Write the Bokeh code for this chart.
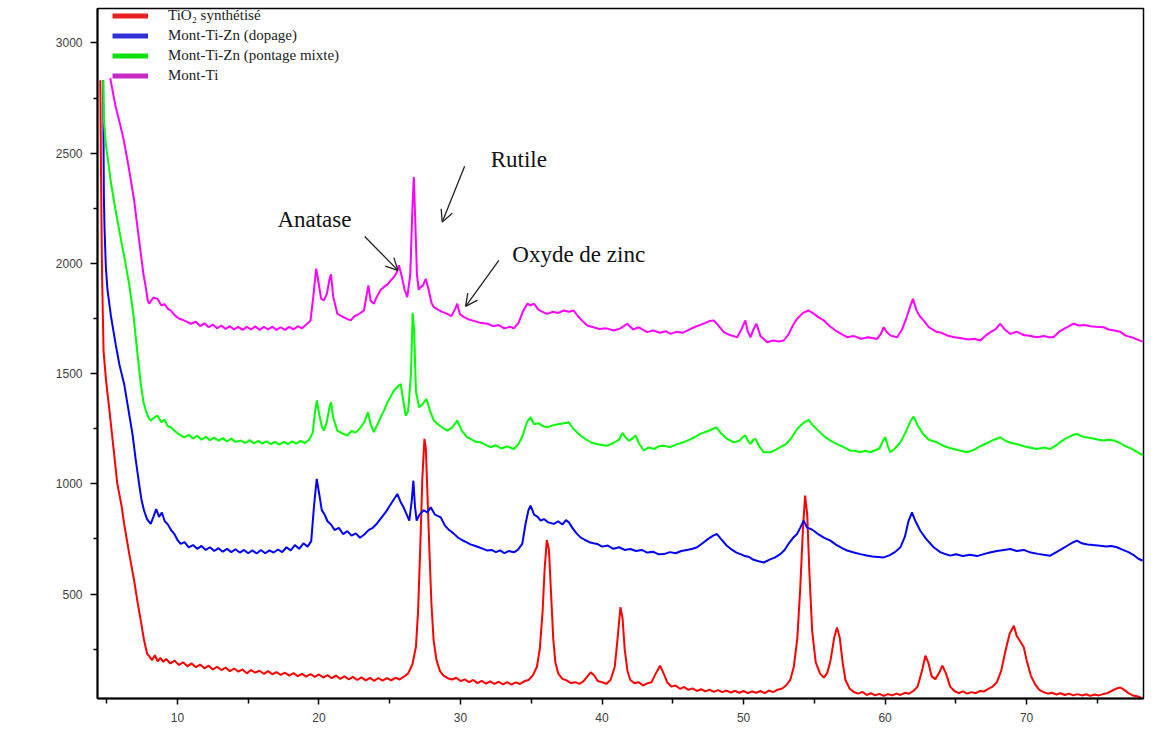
from bokeh.plotting import figure
from bokeh.models import (Range1d, FixedTicker, Label, Arrow, OpenHead, Legend,
                          LegendItem)
from bokeh.embed import file_html
from bokeh.resources import INLINE

# ---------------- data (2Theta in degrees, intensity in counts) ----------------
tio2_synth = [
    (4.55, 2830), (4.6, 2400), (4.67, 1950), (4.78, 1600), (4.95, 1470), (5.17, 1347),
    (5.45, 1180), (5.75, 1000), (6.05, 900), (6.23, 818), (6.6, 680), (6.94, 560),
    (7.2, 455), (7.41, 379), (7.64, 290), (7.85, 230), (8.0, 218), (8.2, 200),
    (8.4, 222), (8.6, 195), (8.8, 210), (9.0, 192), (9.2, 205), (9.5, 185),
    (9.8, 198), (10.1, 178), (10.4, 190), (10.7, 172), (11.0, 185), (11.3, 168),
    (11.6, 180), (11.9, 163), (12.2, 175), (12.5, 158), (12.8, 170), (13.1, 155),
    (13.4, 166), (13.7, 150), (14.0, 162), (14.3, 148), (14.6, 158), (14.9, 140),
    (15.2, 155), (15.5, 143), (15.8, 152), (16.1, 138), (16.4, 150), (16.7, 136),
    (17.0, 146), (17.3, 133), (17.6, 143), (17.9, 130), (18.2, 141), (18.5, 127),
    (18.8, 138), (19.1, 125), (19.4, 137), (19.7, 124), (20.0, 135), (20.3, 121),
    (20.6, 132), (20.9, 118), (21.2, 130), (21.5, 115), (21.8, 127), (22.1, 113),
    (22.4, 124), (22.7, 110), (23.0, 122), (23.3, 108), (23.6, 120), (23.9, 106),
    (24.2, 119), (24.5, 107), (24.8, 118), (25.1, 108), (25.4, 120), (25.7, 112),
    (26.0, 125), (26.3, 140), (26.6, 180), (26.85, 260), (27.0, 420), (27.15, 700),
    (27.3, 1020), (27.45, 1204), (27.55, 1160), (27.65, 980), (27.8, 700), (27.95, 450),
    (28.1, 290), (28.3, 200), (28.55, 150), (28.8, 130), (29.1, 118), (29.4, 112),
    (29.7, 120), (30.0, 105), (30.3, 113), (30.6, 100), (30.9, 110), (31.2, 96),
    (31.5, 106), (31.8, 93), (32.1, 104), (32.4, 92), (32.7, 102), (33.0, 90),
    (33.3, 100), (33.6, 89), (33.9, 99), (34.2, 92), (34.5, 104), (34.8, 110),
    (35.1, 130), (35.4, 170), (35.6, 250), (35.8, 420), (35.95, 620), (36.1, 745),
    (36.25, 700), (36.4, 500), (36.55, 300), (36.7, 190), (36.9, 140), (37.2, 115),
    (37.5, 108), (37.8, 96), (38.1, 100), (38.4, 92), (38.7, 105), (38.95, 125),
    (39.2, 145), (39.45, 130), (39.7, 105), (40.0, 100), (40.3, 92), (40.6, 110),
    (40.9, 170), (41.1, 300), (41.3, 440), (41.45, 390), (41.6, 250), (41.8, 150),
    (42.0, 110), (42.3, 95), (42.6, 100), (42.9, 85), (43.2, 95), (43.5, 100),
    (43.8, 140), (44.1, 175), (44.35, 140), (44.6, 100), (44.9, 80), (45.2, 85),
    (45.5, 70), (45.8, 78), (46.1, 65), (46.4, 72), (46.7, 60), (47.0, 68),
    (47.3, 58), (47.6, 66), (47.9, 56), (48.2, 64), (48.5, 55), (48.8, 62),
    (49.1, 53), (49.4, 61), (49.7, 52), (50.0, 60), (50.3, 50), (50.6, 58),
    (50.9, 52), (51.2, 60), (51.5, 50), (51.8, 62), (52.1, 55), (52.4, 66),
    (52.7, 70), (53.0, 85), (53.3, 110), (53.55, 170), (53.8, 300), (54.0, 520),
    (54.2, 800), (54.35, 946), (54.5, 860), (54.65, 600), (54.85, 330), (55.1, 190),
    (55.4, 140), (55.67, 121), (55.9, 140), (56.15, 200), (56.4, 300), (56.6, 348),
    (56.8, 300), (57.0, 190), (57.2, 110), (57.5, 70), (57.8, 55), (58.1, 48),
    (58.4, 56), (58.7, 42), (59.0, 50), (59.3, 40), (59.6, 47), (59.9, 38),
    (60.2, 46), (60.5, 40), (60.8, 48), (61.1, 42), (61.4, 52), (61.7, 48),
    (62.0, 60), (62.3, 80), (62.6, 150), (62.85, 220), (63.05, 190), (63.3, 125),
    (63.55, 114), (63.8, 140), (64.05, 175), (64.3, 140), (64.6, 80), (64.9, 60),
    (65.2, 50), (65.5, 58), (65.8, 48), (66.1, 55), (66.4, 50), (66.7, 60),
    (67.0, 58), (67.3, 70), (67.6, 80), (67.9, 100), (68.2, 150), (68.5, 240),
    (68.8, 320), (69.1, 356), (69.3, 310), (69.5, 290), (69.8, 258), (70.0, 200),
    (70.3, 130), (70.6, 90), (70.9, 65), (71.2, 55), (71.5, 48), (71.8, 52),
    (72.1, 44), (72.4, 50), (72.7, 42), (73.0, 48), (73.3, 40), (73.6, 46),
    (73.9, 40), (74.2, 45), (74.5, 38), (74.8, 44), (75.1, 40), (75.4, 46),
    (75.7, 50), (76.0, 60), (76.3, 70), (76.6, 76), (76.9, 65), (77.2, 50),
    (77.5, 40), (77.8, 36), (78.1, 30),
]

mont_ti_zn_dopage = [
    (4.75, 2830), (4.8, 2300), (4.85, 2150), (4.94, 1983), (5.06, 1877), (5.3, 1760),
    (5.64, 1630), (5.9, 1540), (6.23, 1453), (6.5, 1350), (6.82, 1226), (7.05, 1110),
    (7.29, 1000), (7.45, 930), (7.64, 878), (7.85, 840), (8.11, 818), (8.3, 850),
    (8.5, 885), (8.7, 850), (8.9, 870), (9.1, 830), (9.3, 818), (9.55, 790),
    (9.8, 770), (10.0, 745), (10.23, 727), (10.5, 735), (10.8, 712), (11.1, 722),
    (11.4, 705), (11.7, 718), (12.0, 700), (12.3, 712), (12.6, 695), (12.9, 708),
    (13.2, 692), (13.5, 705), (13.8, 690), (14.1, 703), (14.4, 688), (14.7, 700),
    (15.0, 685), (15.3, 698), (15.6, 684), (15.9, 700), (16.2, 685), (16.5, 698),
    (16.8, 688), (17.1, 702), (17.4, 690), (17.7, 712), (18.0, 698), (18.3, 722),
    (18.6, 705), (18.9, 730), (19.2, 715), (19.45, 740), (19.65, 900), (19.84, 1022),
    (20.0, 960), (20.2, 880), (20.4, 860), (20.6, 830), (20.85, 815), (21.1, 790),
    (21.4, 800), (21.7, 772), (22.0, 785), (22.3, 765), (22.6, 775), (22.9, 755),
    (23.2, 770), (23.5, 790), (23.8, 800), (24.1, 820), (24.4, 845), (24.7, 870),
    (25.0, 900), (25.25, 925), (25.54, 954), (25.75, 920), (26.0, 890), (26.2, 860),
    (26.38, 833), (26.55, 920), (26.67, 1014), (26.78, 900), (26.9, 833), (27.1, 860),
    (27.4, 880), (27.65, 870), (27.9, 893), (28.2, 860), (28.6, 848), (28.9, 810),
    (29.2, 790), (29.5, 775), (29.8, 757), (30.1, 745), (30.4, 735), (30.7, 725),
    (31.0, 719), (31.3, 712), (31.6, 705), (31.9, 697), (32.2, 700), (32.5, 690),
    (32.8, 698), (33.1, 685), (33.4, 695), (33.77, 689), (34.05, 700), (34.36, 727),
    (34.6, 820), (34.8, 880), (34.95, 901), (35.2, 860), (35.45, 850), (35.66, 833),
    (35.9, 840), (36.2, 825), (36.6, 818), (36.9, 830), (37.2, 815), (37.45, 835),
    (37.66, 825), (37.9, 800), (38.2, 775), (38.48, 757), (38.8, 745), (39.1, 735),
    (39.4, 730), (39.66, 727), (40.0, 715), (40.4, 720), (40.8, 705), (41.2, 712),
    (41.6, 700), (42.0, 704), (42.4, 695), (42.8, 700), (43.2, 688), (43.6, 692),
    (44.0, 680), (44.37, 681), (44.8, 690), (45.2, 685), (45.6, 695), (46.0, 700),
    (46.4, 705), (46.72, 712), (47.1, 730), (47.5, 750), (47.85, 765), (48.13, 772),
    (48.4, 750), (48.8, 720), (49.2, 700), (49.5, 688), (49.78, 681), (50.1, 672),
    (50.4, 668), (50.7, 655), (51.0, 650), (51.43, 643), (51.8, 655), (52.2, 665),
    (52.6, 681), (52.9, 700), (53.2, 730), (53.5, 755), (53.78, 772), (54.0, 800),
    (54.25, 833), (54.5, 800), (54.75, 795), (54.96, 787), (55.3, 770), (55.7, 755),
    (56.14, 742), (56.5, 725), (56.9, 710), (57.32, 697), (57.8, 688), (58.25, 681),
    (58.7, 675), (59.1, 670), (59.5, 668), (59.9, 666), (60.3, 675), (60.7, 690),
    (61.08, 712), (61.4, 760), (61.65, 830), (61.9, 870), (62.15, 830), (62.49, 787),
    (62.9, 750), (63.43, 712), (63.9, 690), (64.3, 680), (64.61, 674), (65.0, 680),
    (65.5, 672), (66.0, 678), (66.5, 672), (66.96, 681), (67.4, 688), (67.9, 695),
    (68.4, 700), (68.85, 704), (69.3, 695), (69.8, 700), (70.3, 688), (70.8, 682),
    (71.2, 678), (71.67, 674), (72.1, 690), (72.5, 705), (72.9, 720), (73.3, 735),
    (73.56, 742), (73.9, 730), (74.3, 725), (74.7, 722), (75.2, 719), (75.6, 715),
    (76.0, 718), (76.38, 712), (76.8, 700), (77.2, 690), (77.6, 675), (77.9, 660),
    (78.2, 651),
]

mont_ti_zn_pontage = [
    (4.75, 2830), (4.8, 2650), (4.94, 2540), (5.29, 2370), (5.6, 2250), (6.0, 2110),
    (6.3, 2010), (6.6, 1900), (6.9, 1760), (7.17, 1590), (7.41, 1453),
    (7.6, 1370), (7.76, 1332), (7.95, 1300), (8.11, 1287), (8.35, 1300), (8.59, 1309),
    (8.85, 1280), (9.1, 1290), (9.3, 1262), (9.53, 1256), (9.8, 1240), (10.1, 1225),
    (10.47, 1211), (10.8, 1222), (11.1, 1205), (11.4, 1218), (11.7, 1200), (12.0, 1213),
    (12.3, 1198), (12.6, 1210), (12.9, 1195), (13.2, 1207), (13.5, 1192), (13.8, 1205),
    (14.1, 1190), (14.47, 1196), (14.8, 1185), (15.1, 1198), (15.4, 1183), (15.7, 1195),
    (16.0, 1182), (16.3, 1192), (16.6, 1180), (16.9, 1190), (17.2, 1178), (17.5, 1190),
    (17.8, 1180), (18.1, 1192), (18.4, 1182), (18.7, 1195), (19.0, 1185), (19.3, 1200),
    (19.55, 1230), (19.75, 1340), (19.85, 1378), (20.0, 1320), (20.2, 1260), (20.35, 1241),
    (20.55, 1280), (20.75, 1350), (20.85, 1370), (21.0, 1300), (21.3, 1241), (21.6, 1230),
    (22.0, 1219), (22.3, 1240), (22.6, 1232), (22.95, 1256), (23.2, 1280), (23.46, 1325),
    (23.65, 1270), (23.88, 1234), (24.1, 1265), (24.35, 1300), (24.59, 1332), (24.85, 1370),
    (25.1, 1400), (25.3, 1423), (25.55, 1440), (25.77, 1453), (25.95, 1380), (26.12, 1309),
    (26.3, 1330), (26.5, 1500), (26.62, 1776), (26.72, 1700), (26.85, 1420), (27.07, 1347),
    (27.3, 1360), (27.6, 1385), (27.85, 1330), (28.12, 1287), (28.4, 1270), (28.7, 1255),
    (29.07, 1241), (29.4, 1255), (29.77, 1287), (30.1, 1240), (30.48, 1211), (30.8, 1200),
    (31.1, 1190), (31.42, 1188), (31.8, 1175), (32.12, 1166), (32.5, 1175), (32.9, 1160),
    (33.3, 1170), (33.77, 1158), (34.1, 1180), (34.4, 1220), (34.7, 1280), (34.95, 1302),
    (35.2, 1270), (35.5, 1275), (35.8, 1262), (36.13, 1256), (36.5, 1265), (36.9, 1270),
    (37.3, 1275), (37.66, 1279), (37.9, 1255), (38.2, 1235), (38.48, 1219), (38.9, 1200),
    (39.3, 1185), (39.8, 1178), (40.37, 1173), (40.8, 1185), (41.2, 1200), (41.45, 1230),
    (41.66, 1211), (41.9, 1195), (42.15, 1205), (42.37, 1219), (42.6, 1185), (42.95, 1151),
    (43.3, 1165), (43.7, 1158), (44.0, 1170), (44.37, 1173), (44.84, 1166), (45.3, 1180),
    (45.6, 1185), (46.02, 1196), (46.5, 1210), (46.9, 1225), (47.3, 1235), (47.7, 1245),
    (48.08, 1256), (48.4, 1230), (48.8, 1205), (49.31, 1188), (49.7, 1195), (50.0, 1215),
    (50.13, 1219), (50.35, 1190), (50.49, 1181), (50.7, 1200), (50.84, 1204), (51.1, 1170),
    (51.43, 1143), (51.9, 1143), (52.3, 1155), (52.6, 1166), (53.0, 1180), (53.4, 1210),
    (53.8, 1250), (54.2, 1275), (54.6, 1290), (54.9, 1265), (55.3, 1240), (55.7, 1215),
    (56.14, 1196), (56.6, 1180), (57.08, 1166), (57.5, 1151), (57.9, 1150), (58.25, 1143),
    (58.6, 1150), (58.96, 1143), (59.3, 1152), (59.6, 1160), (59.85, 1195), (60.02, 1211),
    (60.2, 1170), (60.37, 1143), (60.7, 1160), (61.1, 1190), (61.5, 1240), (61.8, 1285),
    (62.02, 1305), (62.3, 1265), (62.7, 1225), (63.1, 1200), (63.67, 1188), (64.2, 1170),
    (64.7, 1160), (65.2, 1152), (65.79, 1143), (66.2, 1152), (66.7, 1170), (67.2, 1185),
    (67.7, 1200), (68.14, 1211), (68.5, 1195), (68.9, 1185), (69.3, 1180), (69.8, 1170),
    (70.2, 1165), (70.73, 1158), (71.2, 1165), (71.67, 1158), (72.1, 1175), (72.5, 1195),
    (72.9, 1210), (73.3, 1222), (73.56, 1226), (73.9, 1215), (74.3, 1210), (74.7, 1205),
    (75.1, 1200), (75.44, 1196), (75.8, 1200), (76.2, 1196), (76.6, 1185), (77.0, 1170),
    (77.4, 1160), (77.8, 1145), (78.2, 1130),
]

mont_ti = [
    (5.25, 2840), (5.6, 2720), (5.99, 2618), (6.2, 2560), (6.47, 2467), (6.7, 2380),
    (6.94, 2285), (7.2, 2150), (7.41, 2044), (7.6, 1950), (7.76, 1892), (7.9, 1830),
    (8.0, 1817), (8.3, 1845), (8.59, 1839), (8.85, 1810), (9.1, 1815), (9.3, 1795),
    (9.53, 1786), (9.8, 1765), (10.1, 1750), (10.5, 1740), (10.94, 1726), (11.3, 1735),
    (11.6, 1715), (11.9, 1728), (12.2, 1710), (12.5, 1722), (12.8, 1705), (13.1, 1718),
    (13.4, 1702), (13.7, 1715), (14.0, 1700), (14.3, 1712), (14.6, 1698), (14.9, 1712),
    (15.2, 1700), (15.5, 1714), (15.8, 1698), (16.1, 1712), (16.4, 1700), (16.7, 1713),
    (17.0, 1698), (17.3, 1710), (17.6, 1698), (17.9, 1712), (18.2, 1700), (18.5, 1715),
    (18.8, 1705), (19.1, 1722), (19.4, 1740), (19.6, 1850), (19.8, 1976), (19.95, 1920),
    (20.15, 1840), (20.35, 1832), (20.55, 1860), (20.75, 1930), (20.85, 1950), (21.0, 1850),
    (21.3, 1771), (21.6, 1760), (21.9, 1750), (22.24, 1741), (22.5, 1760), (22.8, 1770),
    (23.18, 1786), (23.35, 1850), (23.49, 1900), (23.65, 1830), (23.88, 1817), (24.1, 1850),
    (24.36, 1880), (24.59, 1892), (24.85, 1905), (25.1, 1925), (25.3, 1938), (25.5, 1960),
    (25.65, 1991), (25.85, 1940), (26.05, 1880), (26.24, 1847), (26.45, 1950), (26.6, 2250),
    (26.7, 2392), (26.8, 2200), (26.92, 1950), (27.05, 1880), (27.18, 1892), (27.35, 1900),
    (27.54, 1930), (27.75, 1880), (27.95, 1820), (28.12, 1801), (28.4, 1790), (28.7, 1780),
    (29.07, 1771), (29.35, 1760), (29.6, 1790), (29.77, 1817), (29.95, 1770), (30.24, 1756),
    (30.6, 1745), (31.0, 1738), (31.4, 1730), (31.9, 1726), (32.3, 1715), (32.7, 1720),
    (33.1, 1705), (33.5, 1712), (33.77, 1705), (34.1, 1730), (34.4, 1780), (34.72, 1817),
    (34.95, 1810), (35.19, 1817), (35.5, 1790), (35.8, 1780), (36.13, 1771), (36.5, 1780),
    (36.9, 1775), (37.3, 1786), (37.66, 1780), (38.0, 1786), (38.3, 1760), (38.6, 1740),
    (38.96, 1718), (39.4, 1710), (39.8, 1702), (40.3, 1705), (40.83, 1695), (41.3, 1705),
    (41.78, 1726), (42.2, 1700), (42.6, 1710), (43.19, 1688), (43.6, 1695), (44.1, 1685),
    (44.5, 1692), (44.84, 1680), (45.3, 1690), (45.7, 1685), (46.02, 1695), (46.5, 1710),
    (46.9, 1720), (47.3, 1730), (47.6, 1738), (47.9, 1741), (48.2, 1720), (48.6, 1688),
    (49.0, 1675), (49.3, 1670), (49.55, 1665), (49.85, 1700), (50.13, 1741), (50.3, 1690),
    (50.49, 1665), (50.7, 1700), (50.91, 1726), (51.2, 1670), (51.67, 1642), (52.1, 1650),
    (52.5, 1645), (52.84, 1650), (53.2, 1680), (53.5, 1720), (53.78, 1748), (54.2, 1775),
    (54.6, 1786), (55.0, 1770), (55.3, 1755), (55.67, 1741), (56.1, 1715), (56.5, 1695),
    (56.9, 1680), (57.32, 1665), (57.8, 1670), (58.3, 1658), (58.8, 1665), (59.2, 1660),
    (59.44, 1657), (59.7, 1680), (59.9, 1710), (60.1, 1690), (60.4, 1672), (60.85, 1665),
    (61.2, 1700), (61.5, 1750), (61.75, 1800), (61.97, 1839), (62.2, 1790), (62.45, 1760),
    (62.72, 1741), (63.1, 1710), (63.6, 1690), (64.0, 1685), (64.38, 1673), (64.9, 1665),
    (65.4, 1660), (65.9, 1655), (66.3, 1658), (66.73, 1650), (67.1, 1672), (67.5, 1690),
    (67.8, 1700), (68.14, 1726), (68.45, 1700), (68.85, 1680), (69.3, 1690), (69.8, 1675),
    (70.3, 1670), (70.73, 1665), (71.2, 1670), (71.6, 1665), (71.9, 1665), (72.3, 1690),
    (72.7, 1705), (73.0, 1715), (73.32, 1726), (73.7, 1718), (74.1, 1720), (74.5, 1715),
    (74.9, 1712), (75.44, 1710), (75.8, 1700), (76.2, 1695), (76.6, 1690), (77.0, 1672),
    (77.4, 1665), (77.8, 1655), (78.2, 1645),
]

series_names = ["TiO\u2082 synthétisé", "Mont-Ti-Zn (dopage)",
                "Mont-Ti-Zn (pontage mixte)", "Mont-Ti"]
series_data = [tio2_synth, mont_ti_zn_dopage, mont_ti_zn_pontage, mont_ti]
series_colors = ["#ff0000", "#0000ff", "#00ff00", "#ff00ff"]
legend_colors = ["#e82020", "#3030d8", "#10e010", "#c828c8"]

x_ticks = [10, 20, 30, 40, 50, 60, 70]
x_minor = [5, 15, 25, 35, 45, 55, 65, 75]
y_ticks = [500, 1000, 1500, 2000, 2500, 3000]
y_minor = [250, 750, 1250, 1750, 2250, 2750]

# annotations: (text, x, y) and arrows (x_start, y_start, x_end, y_end)
annot_texts = [("Rutile", 32.13, 2470), ("Anatase", 17.06, 2198), ("Oxyde de zinc", 33.66, 2040)]
annot_arrows = [(30.29, 2440, 28.71, 2187), (23.23, 2122, 25.58, 1968), (32.71, 2013, 30.36, 1805)]

# ---------------- figure ----------------
p = figure(width=1158, height=742, output_backend="svg", toolbar_location=None,
           x_range=Range1d(4.35, 78.26), y_range=Range1d(26, 3156),
           min_border_left=97, min_border_right=15, min_border_top=8, min_border_bottom=44)
p.xgrid.visible = False
p.ygrid.visible = False
p.outline_line_color = "black"
p.outline_line_width = 1.5
p.background_fill_color = "white"
p.border_fill_color = "white"

for data, color in zip(series_data, series_colors):
    xs = [d[0] for d in data]
    ys = [d[1] for d in data]
    p.line(xs, ys, line_color=color, line_width=2.0)

# legend with thick glyphs (renderers hold no drawable point)
nan = float("nan")
items = []
for name, color in zip(series_names, legend_colors):
    r = p.line(x=[nan], y=[nan], line_color=color, line_width=5)
    items.append(LegendItem(label=name, renderers=[r]))
legend = Legend(items=items, location=(15, 614), margin=0, padding=0,
                glyph_width=36, glyph_height=17, label_height=17, spacing=3,
                label_standoff=20, label_text_font="Liberation Serif",
                label_text_font_size="15px", label_text_color="#222222",
                background_fill_alpha=0, border_line_alpha=0)
p.add_layout(legend, "center")

# axes
for ax in (p.xaxis[0], p.yaxis[0]):
    ax.axis_line_width = 2
    ax.axis_line_color = "black"
    ax.major_tick_line_width = 1.5
    ax.minor_tick_line_width = 1.5
    ax.major_tick_in = 0
    ax.minor_tick_in = 0
    ax.major_label_text_font = "Liberation Sans"
    ax.major_label_text_font_size = "12px"
    ax.major_label_text_color = "#404040"
p.xaxis.ticker = FixedTicker(ticks=x_ticks, minor_ticks=x_minor)
p.yaxis.ticker = FixedTicker(ticks=y_ticks, minor_ticks=y_minor)
p.xaxis.major_tick_out = 6
p.xaxis.minor_tick_out = 5
p.yaxis.major_tick_out = 7
p.yaxis.minor_tick_out = 4
p.xaxis.major_label_standoff = 8
p.yaxis.major_label_standoff = 8

p.add_layout(Label(x=-80, y=693, x_units="screen", y_units="screen", text="Intensity (counts)",
                   angle=90, angle_units="deg", text_align="right", text_baseline="middle",
                   text_font="Liberation Sans", text_font_size="13px", text_color="#404040"))
p.add_layout(Label(x=1055, y=-35, x_units="screen", y_units="screen", text="2Theta (°)",
                   text_align="right", text_baseline="middle",
                   text_font="Liberation Sans", text_font_size="13px", text_color="#404040"))

for t, tx, ty in annot_texts:
    p.add_layout(Label(x=tx, y=ty, text=t, text_font="Liberation Serif", text_font_size="23px",
                       text_color="#111111", text_baseline="alphabetic", text_align="left"))
for xs, ys, xe, ye in annot_arrows:
    p.add_layout(Arrow(end=OpenHead(size=12, line_width=1.3, line_color="#222222"),
                       x_start=xs, y_start=ys, x_end=xe, y_end=ye,
                       line_color="#222222", line_width=1.3))

open("out.html", "w").write(file_html(p, INLINE))
